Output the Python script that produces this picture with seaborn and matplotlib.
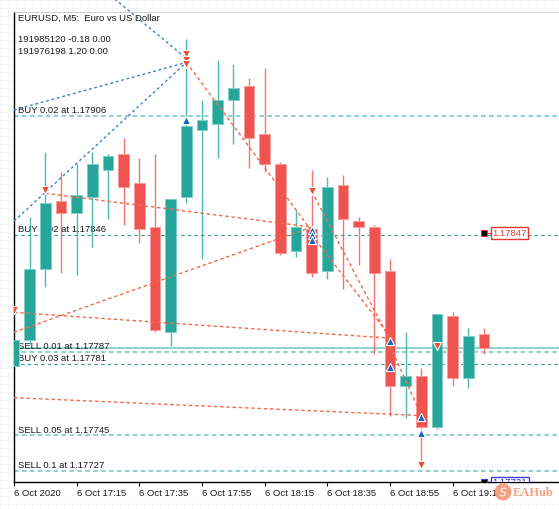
import numpy as np
import pandas as pd
import matplotlib
matplotlib.use("Agg")
import matplotlib.pyplot as plt
import seaborn as sns

sns.set_theme(style="white")
plt.rcParams['font.family'] = ['Liberation Sans', 'DejaVu Sans']

# ---------------- data ----------------
opens = [1.17780, 1.17793, 1.17829, 1.17863, 1.17857, 1.17865, 1.17879, 1.17887, 1.17872, 1.17850,
         1.17797, 1.17865, 1.17899, 1.17902, 1.17914, 1.17921, 1.17897, 1.17882, 1.17838, 1.17849,
         1.17828, 1.17871, 1.17853, 1.17850, 1.17828, 1.17770, 1.17775, 1.17749, 1.17805, 1.17774, 1.17796]
highs = [1.17794, 1.17855, 1.17888, 1.17878, 1.17882, 1.17888, 1.17887, 1.17895, 1.17885, 1.17887,
         1.17864, 1.17945, 1.17914, 1.17934, 1.17932, 1.17925, 1.17930, 1.17883, 1.17859, 1.17879,
         1.17875, 1.17876, 1.17855, 1.17851, 1.17834, 1.17797, 1.17779, 1.17806, 1.17807, 1.17799, 1.17799]
lows = [1.17778, 1.17791, 1.17820, 1.17827, 1.17826, 1.17840, 1.17854, 1.17851, 1.17842, 1.17797,
        1.17790, 1.17862, 1.17834, 1.17885, 1.17892, 1.17880, 1.17878, 1.17836, 1.17835, 1.17825,
        1.17824, 1.17819, 1.17831, 1.17786, 1.17755, 1.17754, 1.17730, 1.17748, 1.17770, 1.17769, 1.17786]
closes = [1.17793, 1.17829, 1.17862, 1.17857, 1.17866, 1.17882, 1.17886, 1.17870, 1.17849, 1.17798,
          1.17864, 1.17901, 1.17904, 1.17914, 1.17920, 1.17895, 1.17882, 1.17837, 1.17850, 1.17827,
          1.17870, 1.17854, 1.17850, 1.17827, 1.17770, 1.17775, 1.17749, 1.17806, 1.17774, 1.17795, 1.17789]

tick_idx = [0, 4, 8, 12, 16, 20, 24, 28]
tick_labels = ["6 Oct 2020", "6 Oct 17:15", "6 Oct 17:35", "6 Oct 17:55",
               "6 Oct 18:15", "6 Oct 18:35", "6 Oct 18:55", "6 Oct 19:15"]

level_prices = [1.17906, 1.17846, 1.17787, 1.17781, 1.17745, 1.17727]
level_labels = ["BUY 0.02 at 1.17906", "BUY 0.02 at 1.17846", "SELL 0.01 at 1.17787",
                "BUY 0.03 at 1.17781", "SELL 0.05 at 1.17745", "SELL 0.1 at 1.17727"]
level_light = [True, False, True, False, True, True]
bid_price = 1.17789

buy_idx = [11, 19, 19, 19, 24, 24, 26, 26]
buy_price = [1.17904, 1.178485, 1.17846, 1.178435, 1.177926, 1.177795, 1.177542, 1.177462]
sell_idx = [0, 2, 11, 11, 11, 19, 27, 26]
sell_price = [1.17808, 1.178687, 1.17937, 1.17934, 1.17932, 1.17868, 1.17790, 1.17730]

# trade lines: (idx0, price0, idx1, price1)
blue_x0 = [0, 0, 5.5]
blue_p0 = [1.17853, 1.17909, 1.17971]
blue_x1 = [11, 11, 11]
blue_p1 = [1.17933, 1.17933, 1.17935]

red_x0 = [11, 19, 19, 24, 2, 0, 0, 0]
red_p0 = [1.17933, 1.17868, 1.17846, 1.17790, 1.17867, 1.17807, 1.17797, 1.17764]
red_x1 = [19, 24, 24, 26, 19, 24, 19, 26]
red_p1 = [1.17848, 1.17793, 1.17795, 1.17755, 1.17850, 1.17794, 1.17850, 1.17755]

title_lines = ["EURUSD, M5:  Euro vs US Dollar", "191985120 -0.18 0.00", "191976198 1.20 0.00"]
red_tag = 1.17847
blue_tag = 1.17721

# ---------------- figure ----------------
W, H = 559, 509
fig = plt.figure(figsize=(W / 100, H / 100), dpi=100)
fig.patch.set_facecolor("white")

# very faint background grid in the margins
bg = fig.add_axes([0, 0, 1, 1], zorder=-5)
bg.set_xlim(0, W); bg.set_ylim(H, 0); bg.axis("off")
for gx in np.arange(0, W, 8):
    bg.axvline(gx, color="#f5f5f5", lw=0.6)
for gy in np.arange(0, H, 8):
    bg.axhline(gy, color="#f5f5f5", lw=0.6)
bg.add_patch(plt.Rectangle((14, 482), W - 14, 18, color="white", zorder=3))

left_px, top_px, bot_px = 14, 12, 482
spacing = 15.67
ax = fig.add_axes([left_px / W, (H - bot_px) / H, 1 - left_px / W, (bot_px - top_px) / H])
ax.set_facecolor("white")

df = pd.DataFrame({"idx": np.arange(len(opens)), "open": opens, "high": highs,
                   "low": lows, "close": closes})
df["bull"] = df["close"] >= df["open"]
bull_c, bear_c = "#26a69a", "#ef5350"
bull_e, bear_e = "#7fcdc4", "#f5a09e"

for bull, col, ecol in [(True, bull_c, bull_e), (False, bear_c, bear_e)]:
    d = df[df["bull"] == bull]
    ax.vlines(d["idx"], d["low"], d["high"], color=col, lw=1.0, alpha=0.8, zorder=2)
    bottoms = np.minimum(d["open"], d["close"])
    heights = np.abs(d["close"] - d["open"])
    ax.bar(d["idx"], heights, bottom=bottoms, width=0.68, color=col, edgecolor=ecol,
           linewidth=0.7, zorder=3)

# level lines
for lp, lab, light in zip(level_prices, level_labels, level_light):
    if light:
        ax.axhline(lp, color="#8fd3cb", lw=1.5, ls=(0, (2.2, 1.6)), zorder=1)
    else:
        ax.axhline(lp, color="#2a9d8f", lw=0.8, ls=(0, (3, 3)), zorder=1)
    ax.annotate(lab, xy=(0, lp), xycoords=("axes fraction", "data"), xytext=(3, 2),
                textcoords="offset points", fontsize=6.8, color="#1a1a1a",
                va="baseline", ha="left", zorder=1.5)
ax.axhline(bid_price, color="#8fd3cb", lw=1.4, zorder=1.2)

# trade lines
for x0, p0, x1, p1 in zip(blue_x0, blue_p0, blue_x1, blue_p1):
    ax.plot([x0, x1], [p0, p1], color="#3a7fcf", lw=1.0, ls=(0, (2, 2)), zorder=4,
            clip_on=(x0 >= 0 and p0 < 1.1796))
for x0, p0, x1, p1 in zip(red_x0, red_p0, red_x1, red_p1):
    ax.plot([x0, x1], [p0, p1], color="#f06a4c", lw=1.0, ls=(0, (2.5, 2)), zorder=4)

# trade arrows
sns.scatterplot(x=buy_idx, y=buy_price, ax=ax, marker="^", s=34, color="#1565c0",
                edgecolor="white", linewidth=0.8, zorder=6, legend=False)
sns.scatterplot(x=sell_idx, y=sell_price, ax=ax, marker="v", s=34, color="#e8502e",
                edgecolor="white", linewidth=0.8, zorder=6, legend=False)

# price tags
last_i = len(opens) - 1
ax.plot([last_i, last_i + 0.45], [red_tag, red_tag], color="#e53935", lw=0.8, zorder=6)
ax.scatter([last_i], [red_tag], marker="s", s=14, color="black", edgecolor="#e53935",
           linewidth=0.8, zorder=7)
ax.text(last_i + 0.5, red_tag, "1.17847", color="#e53935", fontsize=6.8, va="center",
        ha="left", zorder=7,
        bbox=dict(facecolor="white", edgecolor="#e53935", boxstyle="square,pad=0.15", lw=1))
ax.plot([last_i, last_i + 0.5], [blue_tag + 0.000007, blue_tag + 0.000007], color="#3b3be0",
        lw=0.8, zorder=6)
ax.scatter([last_i], [blue_tag + 0.000007], marker="s", s=14, color="black",
           edgecolor="#3b3be0", linewidth=0.8, zorder=7)
ax.text(last_i + 0.55, blue_tag, "1.17721", color="#2a2ae0", fontsize=6.8, va="center",
        ha="left", zorder=7, clip_on=True,
        bbox=dict(facecolor="white", edgecolor="#3b3be0", boxstyle="square,pad=0.15", lw=1))

# axes limits in price / index units
ax.set_xlim(0, (W - left_px) / spacing)
ax.set_ylim(1.177215, 1.179584)
ax.set_xticks(tick_idx)
ax.set_xticklabels(tick_labels, ha="left", fontsize=6.8, color="#1a1a1a")
ax.tick_params(axis="x", length=3, width=0.8, color="black", pad=2, direction="out",
               bottom=True)
ax.set_yticks([])
ax.grid(False)
ax.spines["right"].set_visible(False)
ax.spines["top"].set_color("#c8c8c8"); ax.spines["top"].set_linewidth(0.6)
ax.spines["left"].set_color("black"); ax.spines["left"].set_linewidth(1.0)
ax.spines["bottom"].set_color("black"); ax.spines["bottom"].set_linewidth(1.0)

# header text
for ty, line in zip([18, 40, 51], title_lines):
    fig.text(18 / W, 1 - ty / H, line, fontsize=6.8, color="#1a1a1a", va="center", ha="left")

# watermark (logo drawn as shapes, brand name as text)
wm = fig.add_axes([0, 0, 1, 1], zorder=20)
wm.set_xlim(0, W); wm.set_ylim(H, 0); wm.axis("off"); wm.patch.set_alpha(0)
wm.scatter([503], [492], s=150, color="#f3a083", edgecolor="none")
wm.scatter([503], [492], s=40, marker="$S$", color="white", edgecolor="none")
fig.text(513 / W, 1 - 493 / H, "EAHub", fontsize=9, color="#f3a083", ha="left",
         va="center", family=["Liberation Serif", "DejaVu Serif"], fontweight="bold", zorder=21)

fig.savefig("out.png", dpi=100)
